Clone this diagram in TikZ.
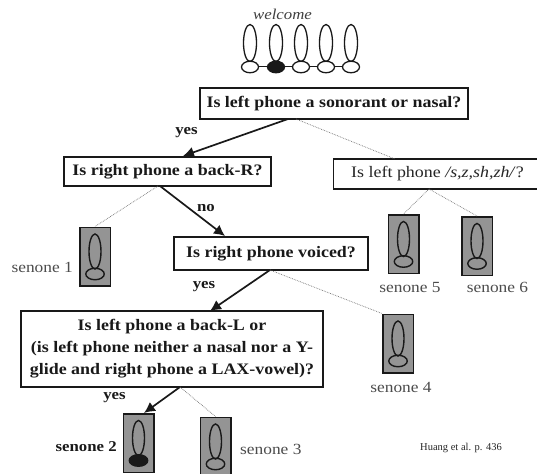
\documentclass[tikz,border=0pt]{standalone}
\usepackage{fontspec}
\setmainfont{Liberation Serif}
\newfontfamily\widefont[FakeStretch=1.12]{Liberation Serif}
\usetikzlibrary{shapes.geometric,arrows.meta}
\definecolor{inkc}{gray}{0.1}
\definecolor{senfill}{gray}{0.58}
\definecolor{thinc}{gray}{0.45}
\tikzset{
 x=1pt,y=-1pt,
 qbox/.style={draw=inkc,line width=2pt,fill=white,text=inkc,font=\widefont\fontsize{16}{22}\selectfont\bfseries,align=center,inner sep=0pt},
 plainbox/.style={draw=inkc,line width=1.8pt,fill=white,text=black!85,font=\widefont\fontsize{16}{20}\selectfont,inner sep=0pt},
 senbox/.style={draw=inkc,line width=1.5pt,fill=senfill,minimum width=30.5pt,minimum height=58.5pt,inner sep=0pt},
 lab/.style={text=black!70,font=\widefont\fontsize{15.5}{18}\selectfont,inner sep=0pt},
 blab/.style={text=inkc,font=\widefont\fontsize{15}{18}\selectfont\bfseries,inner sep=0pt},
 yesarrow/.style={draw=inkc,line width=1.7pt,-{Latex[length=11pt,width=11pt]}},
 thinline/.style={draw=thinc,line width=0.7pt,densely dotted},
 lobe/.style={draw=inkc,ellipse,inner sep=0pt,line width=1.4pt},
 hmm/.style={draw=inkc,ellipse,inner sep=0pt,line width=1.3pt,fill=white},
}
\newcommand{\senonepic}[4]{% name, cx, cy, state fill
 \node[senbox] (#1) at (#2,#3) {};
 \node[lobe,minimum width=12pt,minimum height=35pt] (#1t) at (#2,#3-5) {};
 \node[lobe,fill=#4,minimum width=18.5pt,minimum height=11.5pt] (#1b) at (#2,#3+17.5) {};
}
\newcommand{\hmmstate}[3]{% name, cx, fill
 \node[hmm,minimum width=13pt,minimum height=37pt] (#1t) at (#2,43) {};
 \node[hmm,fill=#3,minimum width=17pt,minimum height=11.5pt] (#1) at (#2,67) {};
}
\begin{document}
\begin{tikzpicture}
\useasboundingbox (0,0) rectangle (537,473);
\fill[white] (0,0) rectangle (537,473);
\clip (0,0) rectangle (537,473);
\node[font=\widefont\fontsize{15}{18}\selectfont\itshape,text=black!75,inner sep=0pt] (word) at (282.5,14) {welcome};
\hmmstate{s1}{250}{white}
\hmmstate{s2}{276}{inkc}
\hmmstate{s3}{301}{white}
\hmmstate{s4}{326}{white}
\hmmstate{s5}{351}{white}
\draw[draw=inkc,line width=1pt] (s1) -- (s2);
\draw[draw=inkc,line width=1pt] (s2) -- (s3);
\draw[draw=inkc,line width=1pt] (s3) -- (s4);
\draw[draw=inkc,line width=1pt] (s4) -- (s5);
%
\node[qbox,minimum width=268pt,minimum height=31pt] (a) at (334,103.5) {Is left phone a sonorant or nasal?};
\node[qbox,minimum width=207pt,minimum height=29pt] (b) at (167.5,171.5) {Is right phone a back-R?};
\node[plainbox,minimum width=207pt,minimum height=30pt] (c) at (437,174) {};
\node[font=\widefont\fontsize{16}{20}\selectfont,text=black!85,inner sep=0pt] (ct) at (437.5,174) {Is left phone \textit{/s,z,sh,zh/}?};
\node[qbox,minimum width=194pt,minimum height=33pt] (d) at (271,253.5) {Is right phone voiced?};
\node[qbox,minimum width=302pt,minimum height=76pt] (e) at (172,349) {Is left phone a back-L or\\(is left phone neither a nasal nor a Y-\\glide and right phone a LAX-vowel)?};
%
\senonepic{n1}{95}{256.5}{none}
\senonepic{n5}{403.5}{244}{none}
\senonepic{n6}{477}{246}{none}
\senonepic{n4}{398}{343.5}{none}
\senonepic{n2}{138.5}{443}{inkc}
\senonepic{n3}{215.5}{446.5}{none}
%
\coordinate (af) at (288,119);
\coordinate (ag) at (296,119);
\coordinate (at) at (183,156);
\coordinate (cin) at (395,159);
\coordinate (bf) at (158,186);
\coordinate (bg) at (160,186);
\coordinate (bt) at (225,236);
\coordinate (df) at (270,270);
\coordinate (dt) at (210,311);
\coordinate (cf) at (429,189);
\coordinate (ef) at (180,387);
\coordinate (ot) at (144,413);
\draw[yesarrow] (af) -- (at);
\draw[thinline] (ag) -- (cin);
\draw[thinline] (bf) -- (n1.north);
\draw[yesarrow] (bg) -- (bt);
\draw[thinline] (cf) -- (n5.north);
\draw[thinline] (cf) -- (n6.north);
\draw[yesarrow] (df) -- (dt);
\draw[thinline] (df) -- (n4.north west);
\draw[yesarrow] (ef) -- (ot);
\draw[thinline] (ef) -- (n3.north);
%
\node[blab] (l1) at (186.5,133) {yes};
\node[blab] (l2) at (206,208) {no};
\node[blab] (l3) at (204,287) {yes};
\node[blab] (l4) at (114.5,398) {yes};
\node[lab,anchor=base east] (t1) at (73,272) {senone 1};
\node[lab,anchor=base] (t5) at (410,292) {senone 5};
\node[lab,anchor=base] (t6) at (497.5,292) {senone 6};
\node[lab,anchor=base] (t4) at (401,392) {senone 4};
\node[blab,anchor=base east] (t2) at (117,451) {senone 2};
\node[lab,anchor=base west] (t3) at (240,454) {senone 3};
\node[font=\fontsize{10.5}{12}\selectfont,text=black!85,inner sep=0pt] (cite) at (461,448) {Huang et al. p. 436};
\end{tikzpicture}
\end{document}
